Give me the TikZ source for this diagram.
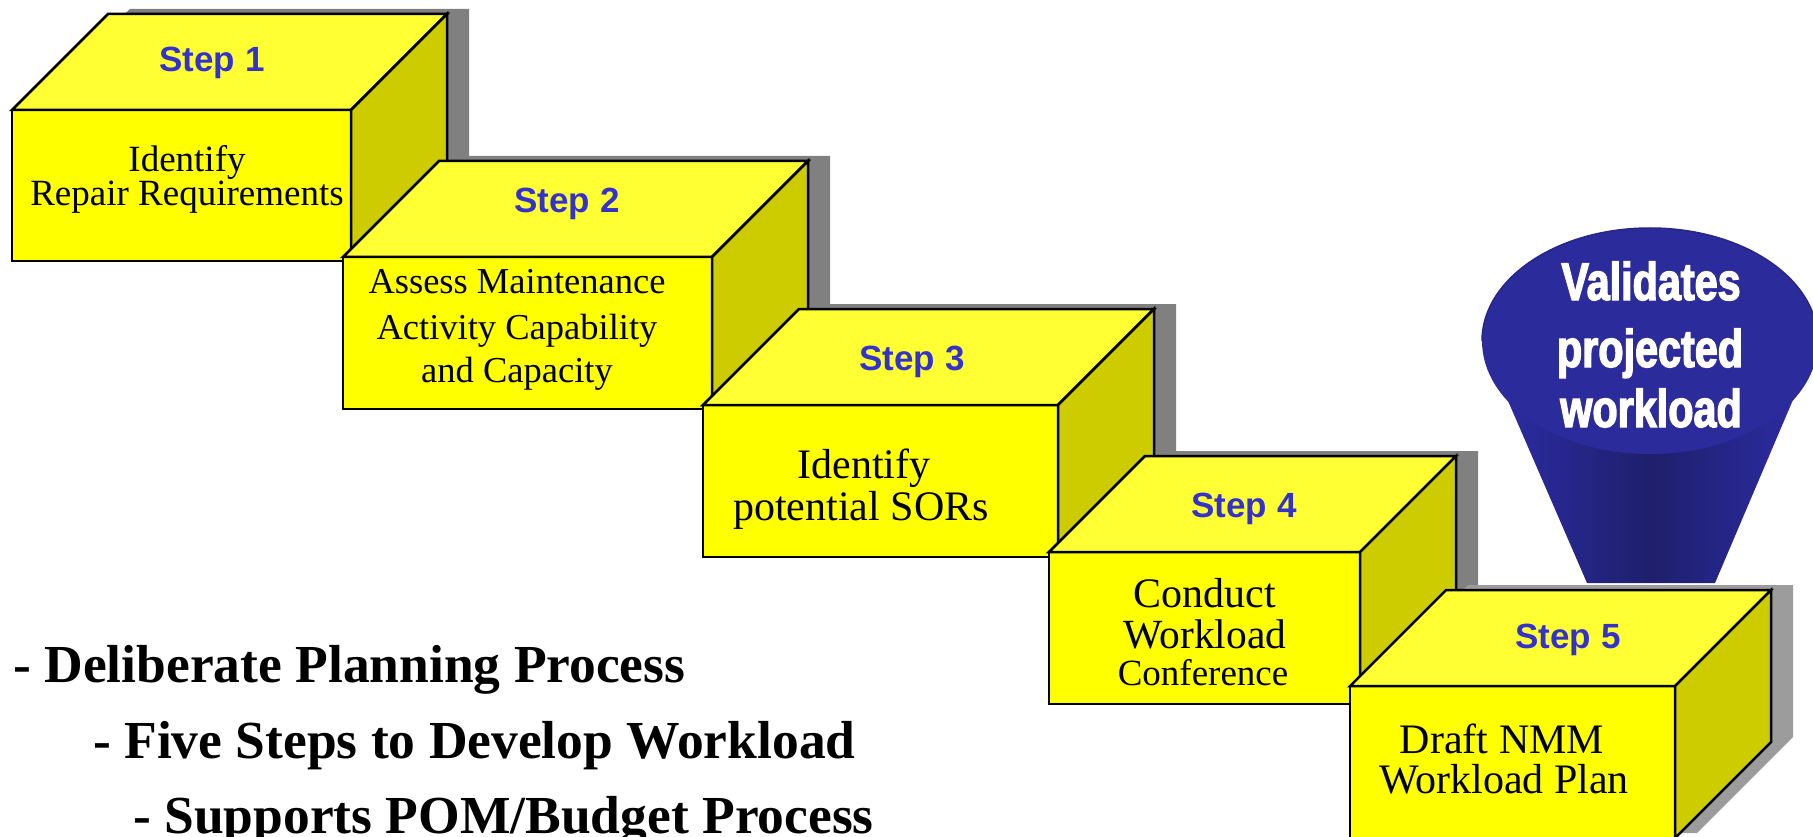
\documentclass[tikz,border=0pt]{standalone}
\usepackage{fontspec}
\setmainfont{Liberation Serif}
\newfontfamily\stepfont{Liberation Sans}
\newfontfamily\impfont{Liberation Sans Bold}[FakeStretch=0.78,FakeBold=2.5]
\definecolor{frontY}{HTML}{FFFF00}
\definecolor{topY}{HTML}{FFFF33}
\definecolor{sideY}{HTML}{CCCC00}
\definecolor{shad}{HTML}{808080}
\definecolor{shadL}{HTML}{9C9C9C}
\definecolor{stepblue}{HTML}{3333CC}
\definecolor{funtop}{HTML}{2B2B9B}
\definecolor{funedge}{HTML}{2D2DAA}
\definecolor{funmid}{HTML}{1F1F6C}
\definecolor{funrim}{HTML}{25258A}
\newcommand{\stepblock}[6]{%
  \fill[#6, shift={(22,-5)}] (#1,#2) -- ({#1+#5},{#2-#5}) -- ({#3+#5},{#2-#5}) -- ({#3+#5},{#4-#5}) -- (#3,#4) -- (#1,#4) -- cycle;
  \filldraw[boxline, fill=frontY] (#1,#2) rectangle (#3,#4);
  \filldraw[boxline, fill=topY] (#1,#2) -- ({#1+#5},{#2-#5}) -- ({#3+#5},{#2-#5}) -- (#3,#2) -- cycle;
  \filldraw[boxline, fill=sideY] (#3,#2) -- ({#3+#5},{#2-#5}) -- ({#3+#5},{#4-#5}) -- (#3,#4) -- cycle;
}
\begin{document}
\begin{tikzpicture}[x=1pt,y=-1pt,
  boxline/.style={draw=black, line width=2.5pt, line join=miter},
  steplabel/.style={inner sep=0pt, anchor=base, text=stepblue, font=\stepfont\bfseries\fontsize{35}{35}\selectfont},
  body/.style={inner sep=0pt, anchor=base, text=black},
  funtext/.style={inner sep=0pt, anchor=base, text=white, font=\impfont\fontsize{53}{53}\selectfont},
  bullet/.style={inner sep=0pt, anchor=base west, text=black, font=\bfseries\fontsize{53.5}{54}\selectfont}]
\useasboundingbox (0,0) rectangle (1813,837);
\clip (0,0) rectangle (1813,837);
\fill[white] (0,0) rectangle (1813,837);

% boxes
\stepblock{12}{110}{351}{261}{96}{shad}
\stepblock{343}{257}{712}{409}{96}{shad}
\stepblock{703}{405}{1058}{557}{96}{shad}
\stepblock{1049}{552}{1360}{704}{96}{shad}

% funnel
\shade[left color=funedge, right color=funedge, middle color=funmid]
  (1482,341) -- (1818,341) -- (1715,583) -- (1587,583) -- cycle;
\fill[funtop] (1650,341) ellipse [x radius=168pt, y radius=113pt];
\draw[funrim, line width=1.5pt] (1482,341) arc [start angle=180, end angle=360, x radius=168pt, y radius=-113pt];

\stepblock{1350}{686}{1675}{838}{96}{shadL}

% step labels
\node[steplabel] (l1) at (212,72) {Step 1};
\node[steplabel] (l2) at (567,213) {Step 2};
\node[steplabel] (l3) at (912,370) {Step 3};
\node[steplabel] (l4) at (1244,517) {Step 4};
\node[steplabel] (l5) at (1568,648) {Step 5};

% box texts
\node[body, font=\fontsize{37}{37}\selectfont] (t1a) at (187,172) {Identify};
\node[body, font=\fontsize{37}{37}\selectfont] (t1b) at (187,206) {Repair Requirements};
\node[body, font=\fontsize{36.5}{37}\selectfont] (t2a) at (517,294) {Assess Maintenance};
\node[body, font=\fontsize{36.5}{37}\selectfont] (t2b) at (517,339) {Activity Capability};
\node[body, font=\fontsize{36.5}{37}\selectfont] (t2c) at (517,382) {and Capacity};
\node[body, font=\fontsize{42}{42}\selectfont] (t3a) at (864,478) {Identify};
\node[body, font=\fontsize{42}{42}\selectfont] (t3b) at (861,520) {potential SORs};
\node[body, font=\fontsize{42}{42}\selectfont] (t4a) at (1205,607) {Conduct};
\node[body, font=\fontsize{41.5}{42}\selectfont] (t4b) at (1205,648) {Workload};
\node[body, font=\fontsize{37}{37}\selectfont] (t4c) at (1203,685) {Conference};
\node[body, font=\fontsize{42}{42}\selectfont] (t5a) at (1502,753) {Draft NMM};
\node[body, font=\fontsize{42}{42}\selectfont] (t5b) at (1504,793) {Workload Plan};

% funnel text
\node[funtext] (f1) at (1651,300) {Validates};
\node[funtext] (f2) at (1650,367) {projected};
\node[funtext] (f3) at (1651,427) {workload};

% bullet text
\node[bullet] (b1) at (13,682) {- Deliberate Planning Process};
\node[bullet] (b2) at (93,758) {- Five Steps to Develop Workload};
\node[bullet] (b3) at (133,833) {- Supports POM/Budget Process};
\end{tikzpicture}
\end{document}
